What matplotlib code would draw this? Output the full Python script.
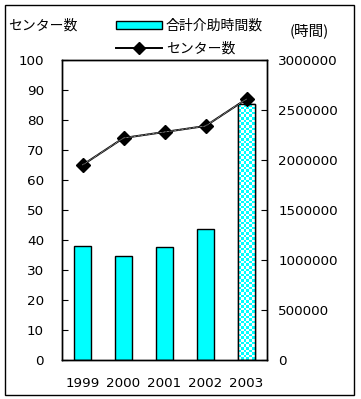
import numpy as np
import matplotlib
matplotlib.use('Agg')
import matplotlib.pyplot as plt
from matplotlib.patches import Rectangle, Patch
from matplotlib.lines import Line2D
from matplotlib.colors import ListedColormap

plt.rcParams['font.family'] = ['Noto Sans CJK JP', 'DejaVu Sans']
plt.rcParams['font.size'] = 10

# データ
years = ['1999', '2000', '2001', '2002', '2003']
hours = [1140000, 1040000, 1130000, 1315000, 2560000]   # 合計介助時間数
centers = [65, 74, 76, 78, 87]                          # センター数

W, H = 361, 399
fig = plt.figure(figsize=(W / 100, H / 100), dpi=100)
fig.patch.set_facecolor('white')

# 外枠
fig.patches.append(Rectangle((5 / W, 4 / H), 349 / W, 390 / H, transform=fig.transFigure,
                             fill=False, edgecolor='black', linewidth=1))

ax = fig.add_axes([62 / W, 39 / H, 205 / W, 300 / H])
ax2 = ax.twinx()

x = np.arange(len(years))
bars = ax2.bar(x, hours, width=0.4, color='#00FFFF', edgecolor='black', linewidth=1)
ax2.set_ylim(0, 3000000)
ax2.set_xlim(-0.5, len(years) - 0.5)

# 2003年は市松模様
b = bars[-1]
b.set_facecolor('white')
p0 = ax2.transData.transform((b.get_x(), 0))
p1 = ax2.transData.transform((b.get_x() + b.get_width(), b.get_height()))
cell = 2.6
ncol = max(1, int(round((p1[0] - p0[0]) / cell)))
nrow = max(1, int(round((p1[1] - p0[1]) / cell)))
checker = (np.add.outer(np.arange(nrow), np.arange(ncol)) % 2)
im = ax2.imshow(checker, cmap=ListedColormap(['#00FFFF', 'white']), interpolation='nearest',
                extent=(b.get_x(), b.get_x() + b.get_width(), 0, b.get_height()),
                aspect='auto', zorder=b.get_zorder() + 0.1)
im.set_clip_path(b)
edge = Rectangle((b.get_x(), 0), b.get_width(), b.get_height(), fill=False,
                 edgecolor='black', linewidth=1, zorder=b.get_zorder() + 0.2)
ax2.add_patch(edge)
ax2.set_ylim(0, 3000000)
ax2.set_xlim(-0.5, len(years) - 0.5)

# センター数の折れ線
ax.plot(x, centers, color='black', linewidth=1.4, marker='D', markersize=7.5,
        markerfacecolor='black', markeredgecolor='black', zorder=3)
ax.plot(x, centers, color='white', linewidth=0.5, linestyle=(0, (1, 1)), zorder=3.5)
ax.set_zorder(ax2.get_zorder() + 1)
ax.patch.set_visible(False)
ax.set_ylim(0, 100)
ax.set_xlim(-0.5, len(years) - 0.5)
ax.set_yticks(np.arange(0, 101, 10))
ax.set_xticks(x)
ax.set_xticklabels(years)
ax2.set_yticks(np.arange(0, 3000001, 500000))
ax2.set_yticklabels([str(v) for v in range(0, 3000001, 500000)])

ax.tick_params(axis='y', direction='in', length=4, pad=13)
ax.tick_params(axis='x', length=0, pad=12)
ax2.tick_params(axis='y', direction='in', length=4, pad=8)
for a in (ax, ax2):
    for s in a.spines.values():
        s.set_linewidth(1)
    for t in a.get_xticklabels() + a.get_yticklabels():
        t.set_fontfamily('DejaVu Sans')
        t.set_fontsize(9.7)

fig.text(8 / W, 1 - 26 / H, 'センター数', ha='left', va='center', fontsize=10)
fig.text(309 / W, 1 - 31 / H, '(時間)', ha='center', va='center', fontsize=10.5)

handles = [Patch(facecolor='#00FFFF', edgecolor='black', linewidth=1),
           Line2D([], [], color='black', linewidth=1.4, marker='D', markersize=6)]
fig.legend(handles, ['合計介助時間数', 'センター数'], loc='upper left',
           bbox_to_anchor=(109 / W, 1 - 12 / H), frameon=False, borderpad=0,
           handlelength=3.3, handleheight=0.45, handletextpad=0.3, labelspacing=0.6,
           fontsize=10)

fig.savefig('out.png', dpi=100)
